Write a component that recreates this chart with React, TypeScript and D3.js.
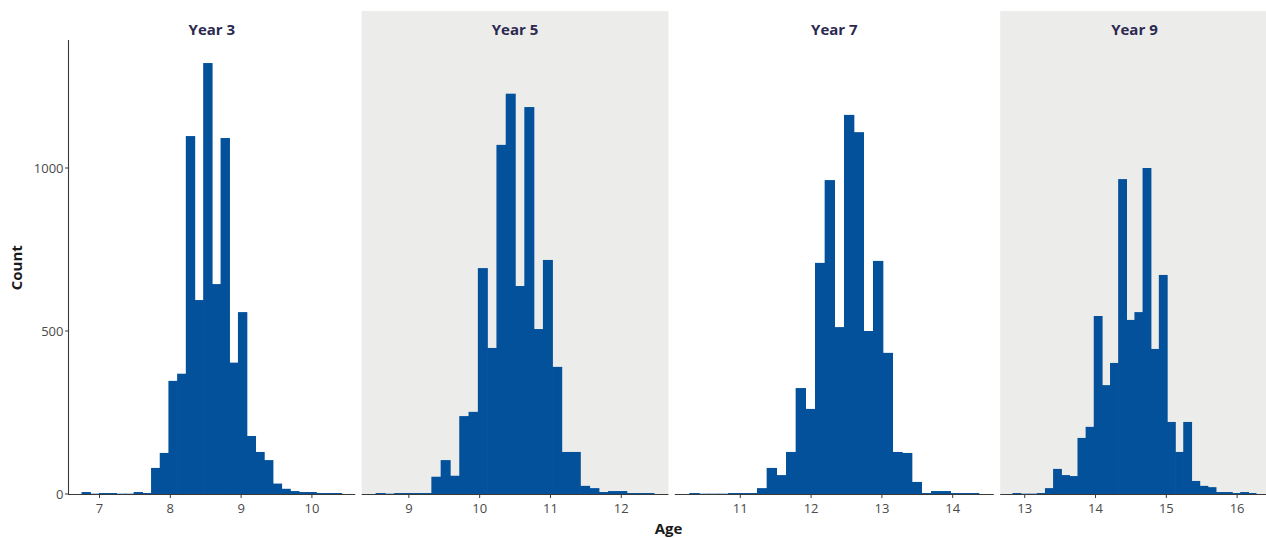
import React from "react";
import { scaleLinear, max } from "d3";

const PANELS = ["Year 3", "Year 5", "Year 7", "Year 9"];
// left edge of first bin and bin width (years) for each panel, 30 bins each
const BIN_START = [6.746, 8.53, 10.28, 12.826];
const BIN_WIDTH = [0.12273, 0.1313, 0.13653, 0.1149];

const COUNTS_Y3 = [6, 1, 3, 3, 1, 1, 6, 3, 80, 126, 347, 369, 1098, 595, 1322, 644, 1092, 403, 558, 178, 129, 104, 32, 16, 9, 6, 6, 3, 3, 3];
const COUNTS_Y5 = [3, 1, 3, 3, 3, 3, 53, 104, 56, 239, 252, 693, 448, 1071, 1228, 638, 1187, 506, 718, 390, 129, 129, 25, 18, 6, 9, 9, 3, 3, 3];
const COUNTS_Y7 = [3, 1, 1, 1, 3, 3, 3, 18, 80, 58, 129, 325, 261, 709, 963, 512, 1163, 1110, 500, 715, 433, 129, 126, 37, 3, 9, 9, 3, 3, 3];
const COUNTS_Y9 = [3, 1, 1, 3, 18, 77, 58, 55, 172, 206, 546, 334, 402, 966, 534, 558, 1000, 445, 672, 221, 129, 221, 40, 25, 21, 6, 6, 3, 6, 3];
const COUNTS = [COUNTS_Y3, COUNTS_Y5, COUNTS_Y7, COUNTS_Y9];

const X_TICKS = [[7, 8, 9, 10], [9, 10, 11, 12], [11, 12, 13, 14], [13, 14, 15, 16]];
const Y_TICKS = [0, 500, 1000];

const W = 1266;
const H = 538;
const LEFT = 68.5;
const GAP = 6.4;
const PX_PER_YEAR = 70.8;
const BASE = 494;
const TOP = 41.5;
const STRIP_TOP = 11;

const BAR = "#03519b";
const PANEL_GREY = "#ececea";
const AXIS = "#3a3a3a";
const TICK_TXT = "#4a4a4a";
const FONT = "'Open Sans', 'Noto Sans', sans-serif";

export default function App() {
  const yMax = (max(COUNTS.flat()) || 0) * 1.05;
  const y = scaleLinear().domain([0, yMax]).range([BASE, TOP]);

  // panels get width proportional to their x range (free space facets)
  let cursor = LEFT;
  const panels = PANELS.map((name, i) => {
    const span = BIN_WIDTH[i] * COUNTS[i].length;
    const lo = BIN_START[i] - span * 0.05;
    const hi = BIN_START[i] + span * 1.05;
    const x0 = cursor;
    const x1 = x0 + (hi - lo) * PX_PER_YEAR;
    cursor = x1 + GAP;
    const x = scaleLinear().domain([lo, hi]).range([x0, x1]);
    return { name, i, x, x0, x1 };
  });

  const midX = (panels[0].x0 + panels[panels.length - 1].x1) / 2;

  return (
    <div style={{ position: "fixed", left: 0, top: 0 }}>
      <svg width={W} height={H} viewBox={`0 0 ${W} ${H}`} style={{ display: "block", background: "#fff" }}>
        {panels.map(({ name, i, x, x0, x1 }) => (
          <g key={name}>
            {i % 2 === 1 && (
              <rect x={x0} y={STRIP_TOP} width={x1 - x0} height={BASE - STRIP_TOP} fill={PANEL_GREY} />
            )}
            <text
              x={(x0 + x1) / 2}
              y={34.5}
              textAnchor="middle"
              fontFamily={FONT}
              fontWeight={700}
              fontSize={15}
              fill="#2b2950"
            >
              {name}
            </text>

            {/* bars, slightly overlapped so no seams show */}
            {COUNTS[i].map((c, k) => {
              const a = x(BIN_START[i] + k * BIN_WIDTH[i]);
              const b = x(BIN_START[i] + (k + 1) * BIN_WIDTH[i]);
              const last = k === COUNTS[i].length - 1;
              return (
                <rect key={k} x={a} y={y(c)} width={b - a + (last ? 0 : 0.7)} height={BASE - y(c)} fill={BAR} />
              );
            })}

            {/* x axis */}
            <line x1={x0} x2={x1} y1={BASE + 0.5} y2={BASE + 0.5} stroke={AXIS} strokeWidth={1.1} />
            {X_TICKS[i].map((t) => (
              <g key={t}>
                <line x1={x(t)} x2={x(t)} y1={BASE} y2={BASE + 4} stroke={AXIS} strokeWidth={1} />
                <text
                  x={x(t)}
                  y={513}
                  textAnchor="middle"
                  fontFamily={FONT}
                  fontSize={13}
                  fill={TICK_TXT}
                >
                  {t}
                </text>
              </g>
            ))}
          </g>
        ))}

        {/* y axis on first panel */}
        <line x1={LEFT} x2={LEFT} y1={TOP - 1.5} y2={BASE + 1} stroke={AXIS} strokeWidth={1.1} />
        {Y_TICKS.map((t) => (
          <g key={t}>
            <line x1={LEFT - 3.5} x2={LEFT} y1={y(t)} y2={y(t)} stroke={AXIS} strokeWidth={1} />
            <text
              x={LEFT - 5}
              y={y(t) + 4.5}
              textAnchor="end"
              fontFamily={FONT}
              fontSize={13}
              fill={TICK_TXT}
            >
              {t}
            </text>
          </g>
        ))}

        <text
          transform={`translate(22, ${(TOP + BASE) / 2}) rotate(-90)`}
          textAnchor="middle"
          fontFamily={FONT}
          fontWeight={700}
          fontSize={15}
          fill="#1a1a1a"
        >
          Count
        </text>
        <text
          x={midX}
          y={534}
          textAnchor="middle"
          fontFamily={FONT}
          fontWeight={700}
          fontSize={15}
          fill="#1a1a1a"
        >
          Age
        </text>
      </svg>
    </div>
  );
}
